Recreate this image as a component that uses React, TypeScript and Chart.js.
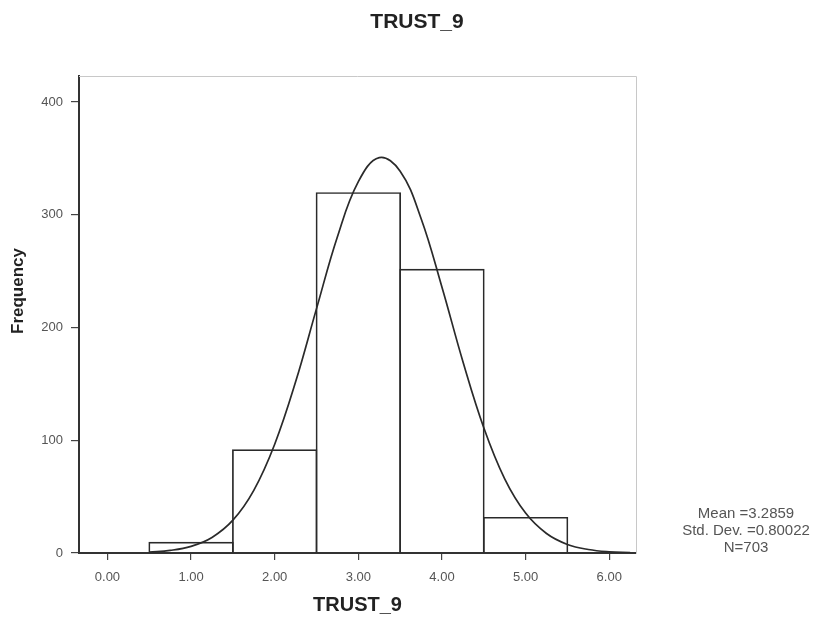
import React, { useEffect, useRef } from "react";
import { Chart, registerables } from "chart.js";

Chart.register(...registerables);

// ---- data ----
const binCenters = [1, 2, 3, 4, 5];
const frequencies = [10, 92, 320, 252, 32];

// normal curve heights (mean 3.2859, sd 0.80022, N 703)
const curveX = [0.5, 0.75, 1.0, 1.25, 1.5, 1.75, 2.0, 2.25, 2.5, 2.75, 3.0, 3.25, 3.5, 3.75, 4.0, 4.25, 4.5, 4.75, 5.0, 5.25, 5.5, 5.75, 6.0, 6.25];
const curveY = [0.8, 2.3, 5.9, 13.8, 29.1, 55.6, 96.5, 151.8, 216.7, 280.5, 329.3, 350.6, 338.6, 296.7, 235.7, 169.9, 111.1, 65.8, 35.4, 17.3, 7.6, 3.1, 1.1, 0.4];

const xTickValues = [0, 1, 2, 3, 4, 5, 6];
const xTickLabels = ["0.00", "1.00", "2.00", "3.00", "4.00", "5.00", "6.00"];
const yTickValues = [0, 100, 200, 300, 400];
const yTickLabels = ["0", "100", "200", "300", "400"];

const chartTitle = "TRUST_9";
const xAxisTitle = "TRUST_9";
const yAxisTitle = "Frequency";
const statsLines = ["Mean =3.2859", "Std. Dev. =0.80022", "N=703"];

const FONT = "'Liberation Sans', Arial, Helvetica, sans-serif";
const BAR_BORDER = 1.7;

const decorPlugin = {
  id: "decor",
  beforeDatasetsDraw(chart: any) {
    const { ctx, chartArea } = chart;
    const { left, right, top, bottom } = chartArea;
    ctx.save();
    ctx.strokeStyle = "#c8c8c8";
    ctx.lineWidth = 1;
    ctx.beginPath();
    ctx.moveTo(left, top + 0.5);
    ctx.lineTo(right + 0.5, top + 0.5);
    ctx.lineTo(right + 0.5, bottom);
    ctx.stroke();
    ctx.restore();
  },
  afterDraw(chart: any) {
    const { ctx, chartArea } = chart;
    ctx.save();
    ctx.fillStyle = "#222";
    ctx.textAlign = "center";
    ctx.textBaseline = "middle";
    ctx.font = `bold 21px ${FONT}`;
    ctx.fillText(chartTitle, 417, 22);

    ctx.font = `bold 20px ${FONT}`;
    ctx.fillText(xAxisTitle, (chartArea.left + chartArea.right) / 2, 605);

    ctx.save();
    ctx.translate(18.5, 291);
    ctx.rotate(-Math.PI / 2);
    ctx.font = `bold 17px ${FONT}`;
    ctx.fillText(yAxisTitle, 0, 0);
    ctx.restore();

    ctx.fillStyle = "#555";
    ctx.font = `15px ${FONT}`;
    statsLines.forEach((line, i) => {
      ctx.fillText(line, 746, 514 + i * 17);
    });
    ctx.restore();
  },
};

export default function App() {
  const canvasRef = useRef<HTMLCanvasElement | null>(null);

  useEffect(() => {
    if (!canvasRef.current) return;
    Chart.defaults.font.family = FONT;
    const chart = new Chart(canvasRef.current, {
      type: "bar",
      data: {
        datasets: [
          {
            type: "line",
            data: curveX.map((x, i) => ({ x, y: curveY[i] })),
            borderColor: "#2a2a2a",
            borderWidth: 1.7,
            pointRadius: 0,
            fill: false,
            tension: 0.4,
            order: 0,
          } as any,
          {
            type: "bar",
            data: binCenters.map((x, i) => ({ x, y: frequencies[i] })),
            backgroundColor: "rgba(255,255,255,0)",
            borderColor: "#2a2a2a",
            borderWidth: BAR_BORDER,
            borderSkipped: "bottom",
            inflateAmount: 0,
            barPercentage: 1 + BAR_BORDER / 83.6,
            categoryPercentage: 1,
            order: 1,
          } as any,
        ],
      },
      options: {
        responsive: false,
        animation: false,
        events: [],
        layout: { padding: { top: 76, right: 188, bottom: 0, left: 0 } },
        plugins: {
          legend: { display: false },
          title: { display: false },
          tooltip: { enabled: false },
        },
        scales: {
          x: {
            type: "linear",
            min: -0.34,
            max: 6.32,
            offset: false,
            afterFit: (s: any) => {
              s.height = 75;
            },
            afterBuildTicks: (s: any) => {
              s.ticks = xTickValues.map((v) => ({ value: v }));
            },
            ticks: {
              autoSkip: false,
              maxRotation: 0,
              padding: 10,
              color: "#555",
              font: { size: 13 },
              callback: (v: any) => {
                const i = xTickValues.indexOf(Number(v));
                return i >= 0 ? xTickLabels[i] : "";
              },
            },
            grid: {
              display: true,
              offset: false,
              drawOnChartArea: false,
              drawTicks: true,
              tickLength: 7,
              color: "#444",
              lineWidth: 1.2,
            },
            border: { display: true, color: "#333", width: 2 },
          },
          y: {
            type: "linear",
            min: 0,
            max: 423,
            afterFit: (s: any) => {
              s.width = 79;
            },
            afterBuildTicks: (s: any) => {
              s.ticks = yTickValues.map((v) => ({ value: v }));
            },
            ticks: {
              padding: 8,
              color: "#555",
              font: { size: 13 },
              callback: (v: any) => {
                const i = yTickValues.indexOf(Number(v));
                return i >= 0 ? yTickLabels[i] : "";
              },
            },
            grid: {
              display: true,
              drawOnChartArea: false,
              drawTicks: true,
              tickLength: 8,
              color: "#444",
              lineWidth: 1.2,
            },
            border: { display: true, color: "#333", width: 2 },
          },
        },
      },
      plugins: [decorPlugin],
    });
    return () => chart.destroy();
  }, []);

  return (
    <div style={{ position: "absolute", left: 0, top: 0, width: 824, height: 628, background: "#fff" }}>
      <canvas ref={canvasRef} width={824} height={628} />
    </div>
  );
}
